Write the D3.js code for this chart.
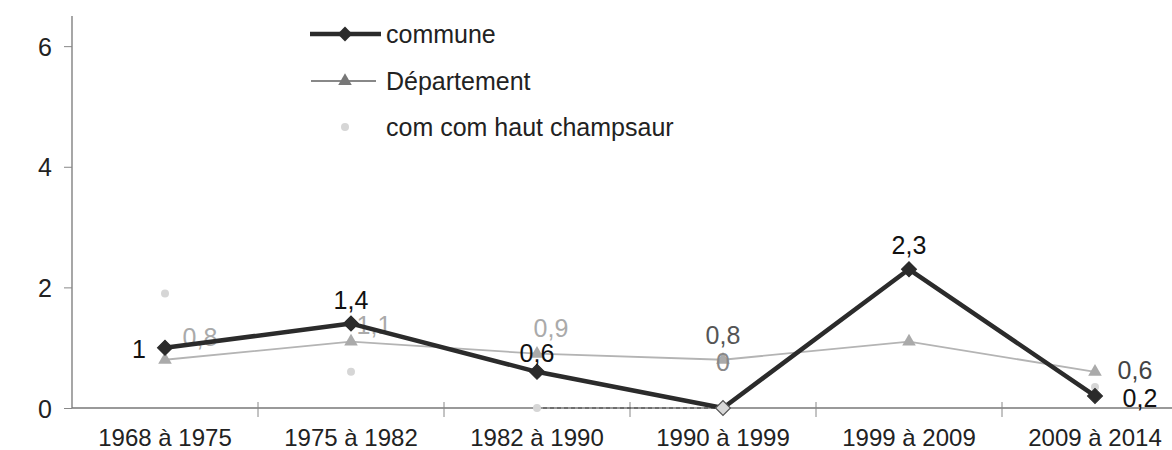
<!DOCTYPE html>
<html><head><meta charset="utf-8">
<script src="https://cdn.jsdelivr.net/npm/d3@7"></script>
<style>body{margin:0;background:#fff}text{font-family:Arial,"Liberation Sans",sans-serif}</style>
</head><body>
<svg id="c" width="1172" height="450"></svg>
<script>
const categories = ["1968 à 1975","1975 à 1982","1982 à 1990","1990 à 1999","1999 à 2009","2009 à 2014"];
const commune = [1, 1.4, 0.6, 0, 2.3, 0.2];
const departement = [0.8, 1.1, 0.9, 0.8, 1.1, 0.6];
const comcom = [1.9, 0.6, 0, 0, null, 0.35];
const yTicks = [0, 2, 4, 6];
const seriesNames = ["commune", "Département", "com com haut champsaur"];
const fmt = v => String(v).replace(".", ",");

const FS = 25;
const svg = d3.select("#c");
const x = d3.scaleBand().domain(categories).range([72, 1188]);
const y = d3.scaleLinear().domain([0, 6.5]).range([408, 16]);
const cx = c => x(c) + x.bandwidth() / 2;

// y axis
svg.append("line").attr("x1",72).attr("x2",72).attr("y1",y(6.5)).attr("y2",y(0)).attr("stroke","#777").attr("stroke-width",1.3);
const ya = svg.append("g").attr("transform","translate(72,0)")
  .call(d3.axisLeft(y).tickValues(yTicks).tickSize(8).tickPadding(12).tickFormat(d=>d));
ya.select(".domain").remove();
ya.selectAll("line").attr("stroke","#888");
ya.selectAll("text").attr("font-size",FS).attr("fill","#222").attr("dy","0.36em");

// x axis
svg.append("line").attr("x1",72).attr("x2",1172).attr("y1",y(0)).attr("y2",y(0)).attr("stroke","#777").attr("stroke-width",1.3);
const bounds = categories.map(c => x(c)).slice(1);
svg.selectAll(".xt").data(bounds).join("line").attr("x1",d=>d).attr("x2",d=>d).attr("y1",y(0)-6).attr("y2",y(0)+9).attr("stroke","#888");
svg.selectAll(".xl").data(categories).join("text").attr("x",d=>cx(d)).attr("y",446)
  .attr("text-anchor","middle").attr("font-size",24).attr("fill","#222").text(d=>d);

// com com series
const pts3 = categories.map((c,i)=>({c,v:comcom[i]}));
for (let i=0;i<pts3.length-1;i++){
  const a=pts3[i], b=pts3[i+1];
  if (a.v===0 && b.v===0){
    svg.append("line").attr("x1",cx(a.c)+6).attr("x2",cx(b.c)).attr("y1",y(0)).attr("y2",y(0))
      .attr("stroke","#444").attr("stroke-width",1).attr("stroke-dasharray","4,3");
  }
}
svg.selectAll(".p3").data(pts3.filter((d,i)=>d.v!==null && i!==3)).join("circle")
  .attr("cx",d=>cx(d.c)).attr("cy",d=>y(d.v)).attr("r",4).attr("fill","#d6d6d6");

// departement
const line = d3.line().x(d=>cx(d.c)).y(d=>y(d.v));
const pts2 = categories.map((c,i)=>({c,v:departement[i]}));
svg.append("path").datum(pts2).attr("d",line).attr("fill","none").attr("stroke","#b4b4b4").attr("stroke-width",1.8);
const tri = d3.symbol().type(d3.symbolTriangle).size(80);
svg.selectAll(".p2").data(pts2).join("path").attr("d",tri)
  .attr("transform",d=>`translate(${cx(d.c)},${y(d.v)})`).attr("fill","#aaa");

// labels departement
const dOff = [[35,-14],[23,-8],[14,-17],[0,-16],null,[40,7]];
pts2.forEach((d,i)=>{ if(!dOff[i]) return;
  svg.append("text").attr("x",cx(d.c)+dOff[i][0]).attr("y",y(d.v)+dOff[i][1]).attr("text-anchor","middle")
    .attr("font-size",FS).attr("fill",i===3?"#555":(i===5?"#444":"#aaa")).text(fmt(d.v)); });

// commune
const pts1 = categories.map((c,i)=>({c,v:commune[i]}));
svg.append("path").datum(pts1).attr("d",line).attr("fill","none").attr("stroke","#2b2b2b").attr("stroke-width",4.5).attr("stroke-linejoin","round");
const dia = d3.symbol().type(d3.symbolSquare).size(110);
svg.selectAll(".p1").data(pts1).join("path").attr("d",dia)
  .attr("transform",d=>`translate(${cx(d.c)},${y(d.v)}) rotate(45)`)
  .attr("fill",d=>d.v===0?"#d8d8d8":"#2b2b2b").attr("stroke",d=>d.v===0?"#555":"#2b2b2b").attr("stroke-width",1.2);

// labels commune
const cOff = [[-26,10],[0,-15],[0,-10],[0,-37],[0,-15],[45,11]];
pts1.forEach((d,i)=>{
  svg.append("text").attr("x",cx(d.c)+cOff[i][0]).attr("y",y(d.v)+cOff[i][1]).attr("text-anchor","middle")
    .attr("font-size",FS).attr("fill",i===3?"#888":"#111").text(fmt(d.v)); });

// legend
const lg = [34, 81, 127];
svg.append("line").attr("x1",310).attr("x2",381).attr("y1",lg[0]).attr("y2",lg[0]).attr("stroke","#2b2b2b").attr("stroke-width",4.5);
svg.append("path").attr("d",dia).attr("transform",`translate(345,${lg[0]}) rotate(45)`).attr("fill","#2b2b2b");
svg.append("line").attr("x1",311).attr("x2",376).attr("y1",lg[1]).attr("y2",lg[1]).attr("stroke","#888").attr("stroke-width",1.8);
svg.append("path").attr("d",tri).attr("transform",`translate(345,${lg[1]})`).attr("fill","#777");
svg.append("circle").attr("cx",345).attr("cy",lg[2]).attr("r",4).attr("fill","#d6d6d6");
seriesNames.forEach((n,i)=>svg.append("text").attr("x",386).attr("y",lg[i]+9).attr("font-size",FS).attr("fill","#222").text(n));
</script>
</body></html>
